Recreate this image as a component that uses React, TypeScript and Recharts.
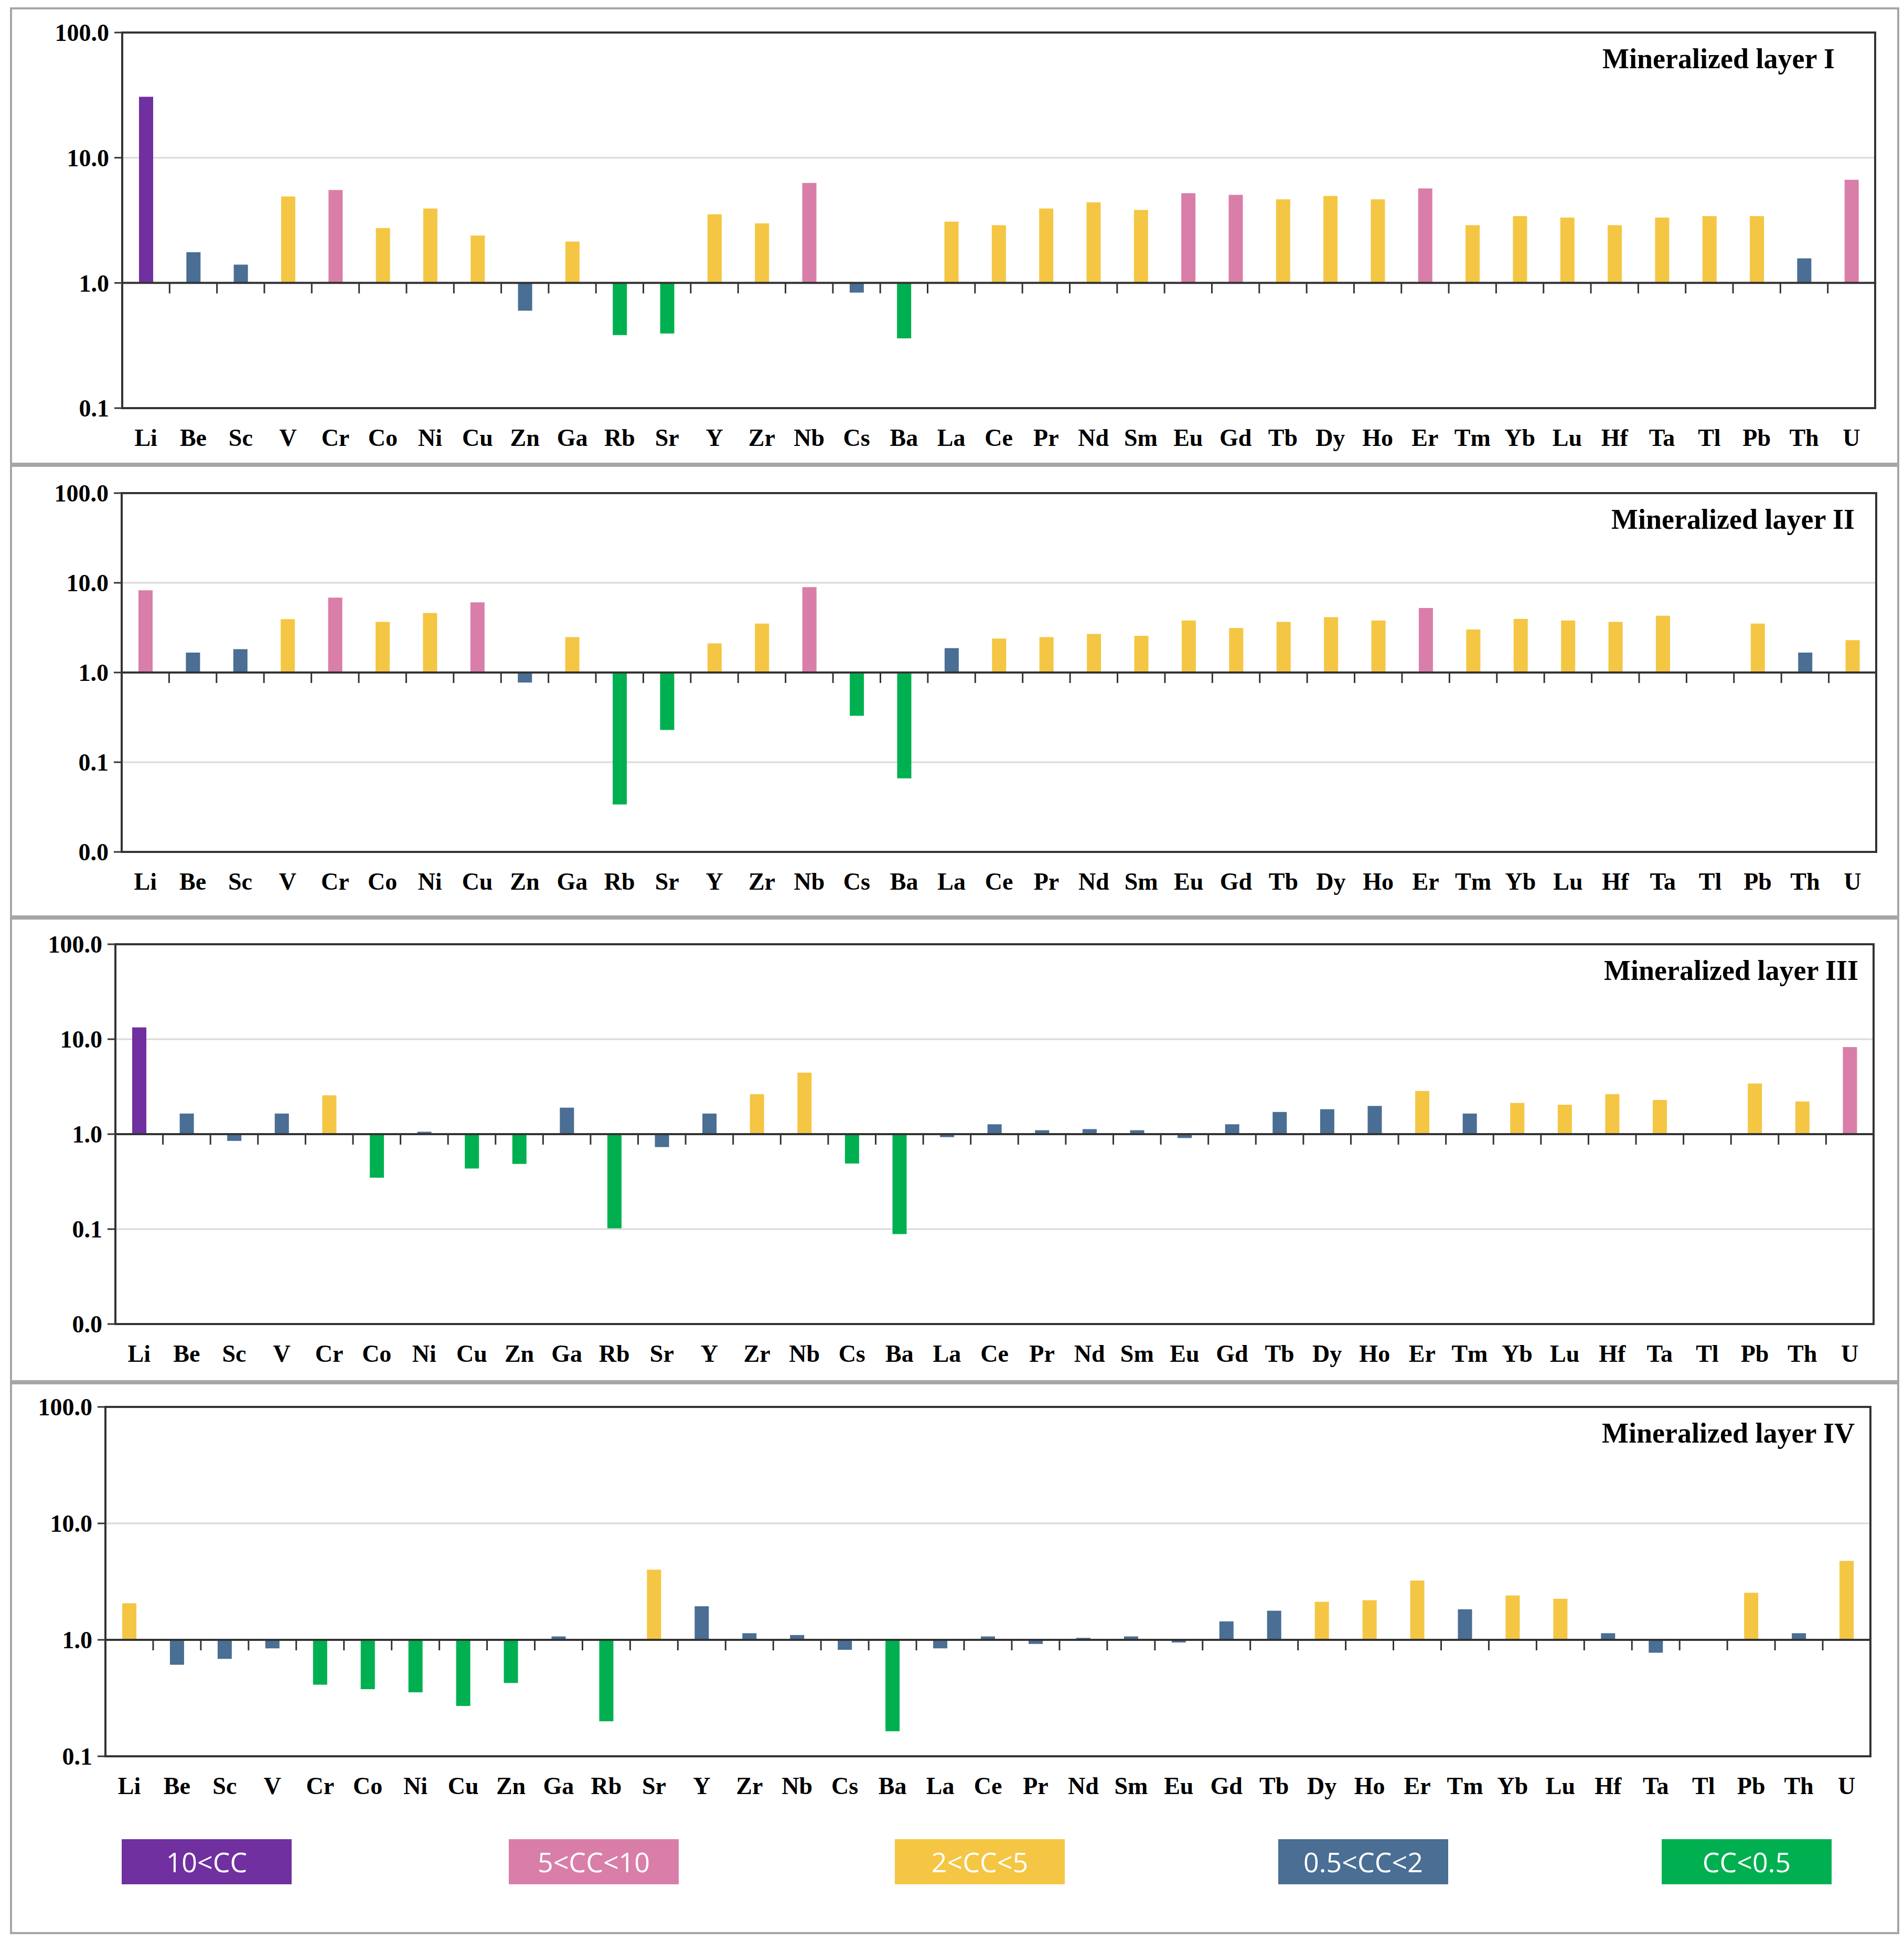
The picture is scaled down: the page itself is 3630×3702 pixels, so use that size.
import React from 'react';
import { BarChart, Bar, Cell, XAxis, YAxis, CartesianGrid, ReferenceLine, ReferenceArea } from 'recharts';

const elements = ['Li', 'Be', 'Sc', 'V', 'Cr', 'Co', 'Ni', 'Cu', 'Zn', 'Ga', 'Rb', 'Sr', 'Y', 'Zr', 'Nb', 'Cs', 'Ba', 'La', 'Ce', 'Pr', 'Nd', 'Sm', 'Eu', 'Gd', 'Tb', 'Dy', 'Ho', 'Er', 'Tm', 'Yb', 'Lu', 'Hf', 'Ta', 'Tl', 'Pb', 'Th', 'U'];

// concentration coefficients (CC) per layer
const layerI = [30.7, 1.76, 1.4, 4.91, 5.52, 2.74, 3.93, 2.39, 0.6, 2.14, 0.383, 0.394, 3.53, 2.99, 6.29, 0.837, 0.361, 3.09, 2.89, 3.93, 4.4, 3.83, 5.21, 5.05, 4.65, 4.95, 4.65, 5.68, 2.89, 3.42, 3.33, 2.89, 3.33, 3.42, 3.42, 1.57, 6.67];
const layerII = [8.25, 1.67, 1.82, 3.93, 6.83, 3.67, 4.61, 6.05, 0.773, 2.48, 0.0338, 0.229, 2.11, 3.51, 8.96, 0.329, 0.0662, 1.87, 2.39, 2.48, 2.69, 2.57, 3.81, 3.13, 3.67, 4.14, 3.81, 5.24, 3.02, 3.96, 3.81, 3.67, 4.3, null, 3.51, 1.67, 2.3];
const layerIII = [13.3, 1.65, 0.849, 1.65, 2.56, 0.348, 1.06, 0.434, 0.486, 1.9, 0.102, 0.731, 1.65, 2.64, 4.44, 0.49, 0.0885, 0.93, 1.27, 1.1, 1.13, 1.1, 0.91, 1.27, 1.71, 1.83, 1.98, 2.85, 1.65, 2.13, 2.04, 2.64, 2.29, null, 3.41, 2.21, 8.26];
const layerIV = [2.06, 0.611, 0.686, 0.845, 0.412, 0.377, 0.354, 0.271, 0.426, 1.07, 0.2, 4.0, 1.94, 1.14, 1.1, 0.821, 0.164, 0.845, 1.07, 0.922, 1.04, 1.07, 0.949, 1.44, 1.78, 2.12, 2.19, 3.23, 1.83, 2.4, 2.25, 1.14, 0.775, null, 2.54, 1.14, 4.76];

const legendLabels = ['10<CC', '5<CC<10', '2<CC<5', '0.5<CC<2', 'CC<0.5'];
const legendColors = ['#7030A0', '#D97EA9', '#F4C644', '#4A6E94', '#00B050'];

const ticksWide = [0.01, 0.1, 1, 10, 100];
const ticksNarrow = [0.1, 1, 10, 100];

function colorFor(v: number) {
  if (v > 10) return legendColors[0];
  if (v > 5) return legendColors[1];
  if (v > 2) return legendColors[2];
  if (v >= 0.5) return legendColors[3];
  return legendColors[4];
}

const panels = [
  { title: 'Mineralized layer I', values: layerI, ticks: ticksNarrow, top: 62, bottom: 778, left: 233, right: 3575, titleRight: 3498 },
  { title: 'Mineralized layer II', values: layerII, ticks: ticksWide, top: 940, bottom: 1624, left: 232, right: 3577, titleRight: 3536 },
  { title: 'Mineralized layer III', values: layerIII, ticks: ticksWide, top: 1800, bottom: 2524, left: 220, right: 3572, titleRight: 3543 },
  { title: 'Mineralized layer IV', values: layerIV, ticks: ticksNarrow, top: 2682, bottom: 3348, left: 201, right: 3566, titleRight: 3536 },
];

const frames = [[14, 886], [886, 1749], [1749, 2635], [2635, 3687]];

const serif = '"Liberation Serif", "Times New Roman", serif';
const dark = '#333333';
const tickFont = { fontFamily: serif, fontWeight: 700, fontSize: 46, fill: '#000' };

function Panel({ p }: { p: typeof panels[number] }) {
  const padTop = 30;
  const axisH = 100;
  const plotH = p.bottom - p.top;
  const yAxisW = 160;
  const data = elements.map((name, i) => {
    const v = p.values[i];
    return { name, value: v, range: v == null ? null : [Math.min(v, 1), Math.max(v, 1)] };
  });
  const lo = p.ticks[0];
  const hi = p.ticks[p.ticks.length - 1];
  return (
    <div style={{ position: 'absolute', left: 0, top: p.top - padTop }}>
      <BarChart
        width={3630}
        height={padTop + plotH + axisH}
        data={data}
        margin={{ top: padTop, right: 3630 - p.right, bottom: 0, left: p.left - yAxisW }}
      >
        <CartesianGrid vertical={false} stroke="#D9D9D9" strokeWidth={3} />
        <XAxis
          dataKey="name"
          interval={0}
          height={axisH}
          axisLine={false}
          tickLine={false}
          tickSize={0}
          tickMargin={39}
          tick={tickFont}
        />
        <YAxis
          scale="log"
          domain={[lo, hi]}
          ticks={p.ticks}
          allowDataOverflow
          width={yAxisW}
          axisLine={false}
          tickSize={15}
          tickMargin={10}
          tickLine={{ stroke: dark, strokeWidth: 3 }}
          tick={tickFont}
          tickFormatter={(v: number) => v.toFixed(1)}
        />
        <ReferenceArea y1={lo} y2={hi} fill="none" stroke={dark} strokeWidth={4} ifOverflow="visible" />
        <Bar dataKey="range" barSize={27} isAnimationActive={false}>
          {data.map((d) => (
            <Cell key={d.name} fill={d.value == null ? 'none' : colorFor(d.value)} />
          ))}
        </Bar>
        <ReferenceLine y={1} stroke={dark} strokeWidth={4} />
        {elements.slice(1).map((e) => (
          <ReferenceLine
            key={e}
            position="start"
            segment={[{ x: e, y: 1 }, { x: e, y: 1 }]}
            shape={(s: any) => <line x1={s.x1} y1={s.y1} x2={s.x1} y2={s.y1 + 20} stroke={dark} strokeWidth={3} />}
          />
        ))}
      </BarChart>
    </div>
  );
}

export default function App() {
  const legendX = [232, 970, 1706, 2437, 3168];
  return (
    <div style={{ position: 'absolute', left: 0, top: 0, width: 3630, height: 3702, background: '#fff', overflow: 'hidden' }}>
      {frames.map(([t, b], i) => (
        <div
          key={i}
          style={{ position: 'absolute', left: 19, top: t, width: 3602, height: b - t, border: '4px solid #A6A6A6', boxSizing: 'border-box' }}
        />
      ))}
      {panels.map((p) => (
        <Panel key={p.title} p={p} />
      ))}
      <svg width={3630} height={3702} style={{ position: 'absolute', left: 0, top: 0, pointerEvents: 'none' }}>
        {panels.map((p) => (
          <text
            key={p.title}
            x={p.titleRight}
            y={p.top + 68}
            textAnchor="end"
            fontFamily={serif}
            fontWeight={700}
            fontSize={54}
            fill="#000"
          >
            {p.title}
          </text>
        ))}
      </svg>
      {legendLabels.map((label, i) => (
        <div
          key={label}
          style={{
            position: 'absolute',
            left: legendX[i],
            top: 3506,
            width: 324,
            height: 86,
            background: legendColors[i],
            color: '#fff',
            fontFamily: '"Open Sans", "Noto Sans", sans-serif',
            fontSize: 52,
            lineHeight: '86px',
            textAlign: 'center',
          }}
        >
          {label}
        </div>
      ))}
    </div>
  );
}
